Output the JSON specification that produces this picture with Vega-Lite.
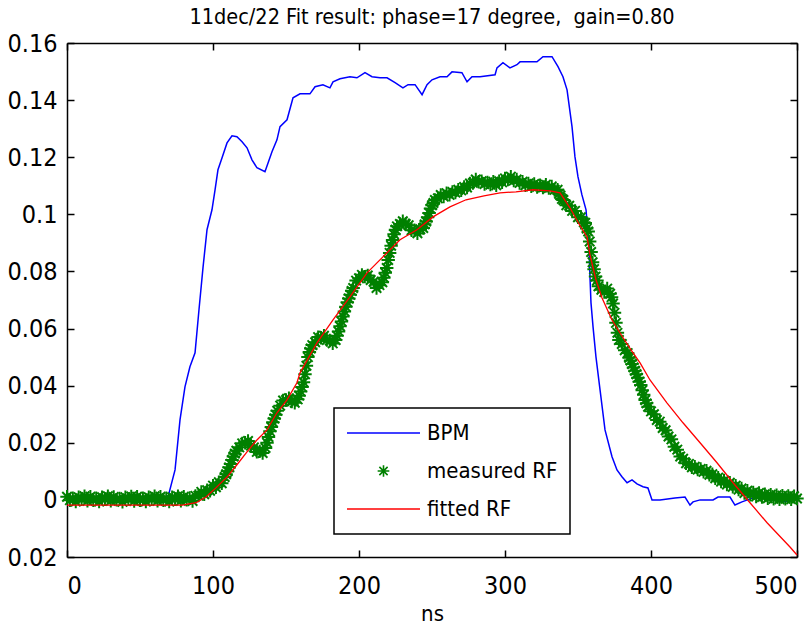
{
  "$schema": "https://vega.github.io/schema/vega-lite/v6.json",
  "width": 730,
  "height": 514,
  "autosize": {"type": "none"},
  "padding": {"left": 67, "top": 43, "right": 8, "bottom": 70},
  "background": "white",
  "title": {"text": "11dec/22 Fit result: phase=17 degree,\u00a0 gain=0.80", "font": "'Liberation Sans Narrow', 'DejaVu Sans Condensed', 'Liberation Sans', sans-serif", "fontSize": 21.5, "fontWeight": "normal", "color": "#000", "offset": 3, "anchor": "middle"},
  "config": {
    "view": {"stroke": null},
    "axis": {"domainColor": "#000", "domainWidth": 1.5, "tickColor": "#000", "tickWidth": 1.5, "tickSize": -7, "grid": false, "labelFont": "'Liberation Sans Narrow', 'DejaVu Sans Condensed', 'Liberation Sans', sans-serif", "labelFontSize": 25, "labelColor": "#000", "titleFont": "'Liberation Sans Narrow', 'DejaVu Sans Condensed', 'Liberation Sans', sans-serif", "titleFontSize": 22, "titleFontWeight": "normal", "titleColor": "#000"}
  },
  "datasets": {
    "bpm": [
      {"t":0,"v":0.0003},{"t":10,"v":0.0002},{"t":20,"v":0.0004},{"t":30,"v":0.0002},{"t":40,"v":0.0003},{"t":50,"v":0.0002},{"t":60,"v":0.0004},{"t":66,"v":0.0003},
      {"t":69.2,"v":0.001},{"t":74,"v":0.0105},{"t":77.4,"v":0.028},{"t":80.8,"v":0.0396},{"t":84.2,"v":0.0466},{"t":87.7,"v":0.0515},{"t":90.4,"v":0.0666},{"t":93.2,"v":0.0816},{"t":95.9,"v":0.0946},{"t":99.3,"v":0.1016},{"t":101.4,"v":0.1086},{"t":103.4,"v":0.1156},{"t":106.2,"v":0.1198},{"t":109.6,"v":0.125},{"t":113,"v":0.1275},{"t":116.4,"v":0.1272},{"t":119.9,"v":0.1254},{"t":123.3,"v":0.1233},{"t":126.7,"v":0.1191},{"t":130.1,"v":0.1163},{"t":135.6,"v":0.1149},{"t":137.7,"v":0.118},{"t":140.4,"v":0.1219},{"t":143.8,"v":0.1261},{"t":145.9,"v":0.1307},{"t":150.7,"v":0.1331},{"t":154.8,"v":0.1408},{"t":159.6,"v":0.1422},{"t":166.4,"v":0.1422},{"t":169.9,"v":0.1447},{"t":175.3,"v":0.1454},{"t":180.1,"v":0.1443},{"t":182.2,"v":0.1464},{"t":187,"v":0.1475},{"t":193.8,"v":0.1482},{"t":198.6,"v":0.1478},{"t":204.1,"v":0.1496},{"t":208.9,"v":0.1482},{"t":214.4,"v":0.1478},{"t":219.2,"v":0.1478},{"t":224.7,"v":0.1461},{"t":230.1,"v":0.1443},{"t":233.6,"v":0.1454},{"t":238.4,"v":0.1454},{"t":243.2,"v":0.1419},{"t":246.6,"v":0.1454},{"t":250,"v":0.1471},{"t":255.5,"v":0.1482},{"t":260.3,"v":0.1482},{"t":263.7,"v":0.1499},{"t":270.5,"v":0.1496},{"t":274,"v":0.1464},{"t":277.4,"v":0.1482},{"t":282.9,"v":0.1482},{"t":293.2,"v":0.1489},{"t":294.5,"v":0.1513},{"t":298.6,"v":0.1531},{"t":303.4,"v":0.1513},{"t":308.2,"v":0.1524},{"t":310.3,"v":0.1534},{"t":321.9,"v":0.1534},{"t":326,"v":0.1552},{"t":332.2,"v":0.1552},{"t":336.3,"v":0.1517},{"t":339.7,"v":0.1482},{"t":342.5,"v":0.1436},{"t":345.9,"v":0.1307},{"t":347.9,"v":0.1202},{"t":350,"v":0.1131},{"t":352.7,"v":0.1068},{"t":355.5,"v":0.1016},{"t":357.5,"v":0.0886},{"t":358.2,"v":0.0781},{"t":358.9,"v":0.069},{"t":360.3,"v":0.0606},{"t":362.3,"v":0.0501},{"t":365.1,"v":0.0385},{"t":368.5,"v":0.0245},{"t":373.3,"v":0.0151},{"t":376.7,"v":0.0105},{"t":380.1,"v":0.0081},{"t":383.6,"v":0.006},{"t":387,"v":0.007},{"t":390.4,"v":0.0056},{"t":394.5,"v":0.0046},{"t":397.9,"v":0.0042},{"t":400.7,"v":0.0},{"t":406.2,"v":0.0},{"t":416.4,"v":0.0007},{"t":423.3,"v":0.001},{"t":426.7,"v":-0.0018},{"t":428.8,"v":-0.0007},{"t":433.6,"v":0},{"t":442.5,"v":0},{"t":445.9,"v":0.001},{"t":454.1,"v":0.001},{"t":457.5,"v":-0.0018},{"t":462.3,"v":-0.0007},{"t":469.9,"v":0.0007},{"t":474.7,"v":0.001},{"t":489.7,"v":-0.0007},{"t":500,"v":0}
    ],
    "meas": [
      {"t":0,"v":0.0011},{"t":2,"v":-0.0001},{"t":4,"v":0.0006},{"t":6,"v":-0.0006},{"t":8,"v":0.0009},{"t":10,"v":0.0002},{"t":12,"v":0.0013},{"t":14,"v":-0.0003},{"t":16,"v":0.0011},{"t":18,"v":-0.0001},{"t":20,"v":0.0006},{"t":22,"v":-0.0006},{"t":24,"v":0.0009},{"t":26,"v":0.0002},{"t":28,"v":0.0013},{"t":30,"v":-0.0003},{"t":32,"v":0.001},{"t":34,"v":0},{"t":36,"v":0.0005},{"t":38,"v":-0.0007},{"t":40,"v":0.0009},{"t":42,"v":0.0003},{"t":44,"v":0.0012},{"t":46,"v":-0.0004},{"t":48,"v":0.0011},{"t":50,"v":-0.0001},{"t":52,"v":0.0006},{"t":54,"v":-0.0006},{"t":56,"v":0.0009},{"t":58,"v":0.0002},{"t":60,"v":0.0013},{"t":62,"v":-0.0003},{"t":64,"v":0.0011},{"t":66,"v":-0.0001},{"t":68,"v":0.0006},{"t":70,"v":-0.0006},{"t":72,"v":0.0009},{"t":74,"v":0.0002},{"t":76,"v":0.0013},{"t":78,"v":-0.0003},{"t":80,"v":0.0011},{"t":82,"v":0},{"t":84,"v":0.0007},{"t":86,"v":-0.0004},{"t":88,"v":0.0014},{"t":90,"v":0.0015},{"t":92,"v":0.0028},{"t":94,"v":0.002},{"t":96,"v":0.0034},{"t":98,"v":0.0032},{"t":100,"v":0.005},{"t":102,"v":0.0044},{"t":104,"v":0.0062},{"t":106,"v":0.0058},{"t":108,"v":0.008},{"t":109,"v":0.009},{"t":110,"v":0.01},{"t":111,"v":0.0114},{"t":112,"v":0.0126},{"t":113,"v":0.014},{"t":114,"v":0.0152},{"t":115,"v":0.0162},{"t":116,"v":0.0172},{"t":118,"v":0.0184},{"t":120,"v":0.0198},{"t":122,"v":0.02},{"t":124,"v":0.0206},{"t":126,"v":0.019},{"t":128,"v":0.0184},{"t":130,"v":0.0168},{"t":132,"v":0.017},{"t":134,"v":0.0164},{"t":136,"v":0.0182},{"t":137,"v":0.02},{"t":138,"v":0.022},{"t":139,"v":0.024},{"t":140,"v":0.0255},{"t":141,"v":0.0272},{"t":142,"v":0.0285},{"t":143,"v":0.0298},{"t":144,"v":0.0312},{"t":146,"v":0.033},{"t":148,"v":0.0348},{"t":150,"v":0.035},{"t":152,"v":0.0356},{"t":154,"v":0.0344},{"t":156,"v":0.034},{"t":158,"v":0.0352},{"t":159,"v":0.0365},{"t":160,"v":0.038},{"t":161,"v":0.0395},{"t":162,"v":0.0412},{"t":163,"v":0.044},{"t":164,"v":0.047},{"t":165,"v":0.05},{"t":166,"v":0.0518},{"t":167,"v":0.053},{"t":168,"v":0.0542},{"t":170,"v":0.0552},{"t":172,"v":0.057},{"t":174,"v":0.0568},{"t":176,"v":0.0575},{"t":178,"v":0.056},{"t":180,"v":0.0558},{"t":182,"v":0.0548},{"t":184,"v":0.056},{"t":185,"v":0.0575},{"t":186,"v":0.059},{"t":187,"v":0.0608},{"t":188,"v":0.0625},{"t":189,"v":0.0642},{"t":190,"v":0.066},{"t":191,"v":0.0676},{"t":192,"v":0.0692},{"t":193,"v":0.0705},{"t":194,"v":0.0718},{"t":195,"v":0.0732},{"t":196,"v":0.0742},{"t":198,"v":0.0768},{"t":200,"v":0.0776},{"t":202,"v":0.0788},{"t":204,"v":0.0782},{"t":206,"v":0.0786},{"t":208,"v":0.077},{"t":210,"v":0.0764},{"t":212,"v":0.0742},{"t":214,"v":0.0752},{"t":216,"v":0.0762},{"t":217,"v":0.0778},{"t":218,"v":0.0795},{"t":219,"v":0.0812},{"t":220,"v":0.084},{"t":221,"v":0.0865},{"t":222,"v":0.089},{"t":223,"v":0.091},{"t":224,"v":0.093},{"t":225,"v":0.0946},{"t":226,"v":0.0958},{"t":228,"v":0.0966},{"t":230,"v":0.0976},{"t":232,"v":0.0966},{"t":234,"v":0.0962},{"t":236,"v":0.0944},{"t":238,"v":0.0944},{"t":240,"v":0.0934},{"t":242,"v":0.0948},{"t":244,"v":0.0952},{"t":245,"v":0.0965},{"t":246,"v":0.0975},{"t":247,"v":0.099},{"t":248,"v":0.1005},{"t":249,"v":0.102},{"t":250,"v":0.1032},{"t":251,"v":0.104},{"t":252,"v":0.105},{"t":254,"v":0.1056},{"t":256,"v":0.1068},{"t":258,"v":0.1062},{"t":260,"v":0.1074},{"t":262,"v":0.1068},{"t":264,"v":0.1078},{"t":266,"v":0.1076},{"t":268,"v":0.1086},{"t":270,"v":0.1084},{"t":272,"v":0.1096},{"t":274,"v":0.1094},{"t":276,"v":0.1108},{"t":278,"v":0.111},{"t":280,"v":0.1122},{"t":282,"v":0.1114},{"t":284,"v":0.1116},{"t":286,"v":0.1106},{"t":288,"v":0.1112},{"t":290,"v":0.1104},{"t":292,"v":0.1114},{"t":294,"v":0.1102},{"t":296,"v":0.1116},{"t":298,"v":0.1112},{"t":300,"v":0.1126},{"t":302,"v":0.1122},{"t":304,"v":0.1132},{"t":306,"v":0.1118},{"t":308,"v":0.1122},{"t":310,"v":0.111},{"t":312,"v":0.1114},{"t":314,"v":0.1102},{"t":316,"v":0.1108},{"t":318,"v":0.1098},{"t":320,"v":0.1106},{"t":322,"v":0.1096},{"t":324,"v":0.1102},{"t":326,"v":0.1094},{"t":328,"v":0.1104},{"t":330,"v":0.1092},{"t":332,"v":0.1098},{"t":334,"v":0.1086},{"t":336,"v":0.1086},{"t":337,"v":0.1072},{"t":338,"v":0.1066},{"t":339,"v":0.1054},{"t":340,"v":0.105},{"t":342,"v":0.1032},{"t":344,"v":0.103},{"t":346,"v":0.1012},{"t":348,"v":0.1012},{"t":350,"v":0.099},{"t":352,"v":0.099},{"t":354,"v":0.0972},{"t":355,"v":0.097},{"t":356,"v":0.095},{"t":357,"v":0.094},{"t":358,"v":0.0905},{"t":359,"v":0.0868},{"t":360,"v":0.0832},{"t":361,"v":0.0808},{"t":362,"v":0.0782},{"t":363,"v":0.0768},{"t":364,"v":0.0748},{"t":366,"v":0.0736},{"t":368,"v":0.0728},{"t":370,"v":0.074},{"t":372,"v":0.0722},{"t":373,"v":0.071},{"t":374,"v":0.0688},{"t":375,"v":0.0655},{"t":376,"v":0.062},{"t":377,"v":0.0585},{"t":378,"v":0.056},{"t":380,"v":0.0546},{"t":382,"v":0.0524},{"t":384,"v":0.0514},{"t":385,"v":0.0498},{"t":386,"v":0.0488},{"t":387,"v":0.0476},{"t":388,"v":0.0464},{"t":389,"v":0.0452},{"t":390,"v":0.044},{"t":391,"v":0.0428},{"t":392,"v":0.0414},{"t":393,"v":0.0402},{"t":394,"v":0.0384},{"t":395,"v":0.0368},{"t":396,"v":0.035},{"t":397,"v":0.0338},{"t":398,"v":0.0326},{"t":400,"v":0.031},{"t":402,"v":0.03},{"t":404,"v":0.028},{"t":406,"v":0.0274},{"t":408,"v":0.0252},{"t":410,"v":0.0244},{"t":412,"v":0.0222},{"t":414,"v":0.0212},{"t":416,"v":0.0186},{"t":418,"v":0.0176},{"t":420,"v":0.0152},{"t":422,"v":0.0144},{"t":424,"v":0.0128},{"t":426,"v":0.0126},{"t":428,"v":0.0114},{"t":430,"v":0.0116},{"t":432,"v":0.0106},{"t":434,"v":0.0108},{"t":436,"v":0.0098},{"t":438,"v":0.0102},{"t":440,"v":0.0088},{"t":442,"v":0.009},{"t":444,"v":0.0076},{"t":446,"v":0.0078},{"t":448,"v":0.0064},{"t":450,"v":0.0068},{"t":452,"v":0.0054},{"t":454,"v":0.006},{"t":456,"v":0.0046},{"t":458,"v":0.005},{"t":460,"v":0.0036},{"t":462,"v":0.004},{"t":464,"v":0.0024},{"t":466,"v":0.0032},{"t":468,"v":0.0018},{"t":470,"v":0.0026},{"t":472,"v":0.0012},{"t":474,"v":0.0024},{"t":476,"v":0.001},{"t":478,"v":0.002},{"t":480,"v":0.0006},{"t":482,"v":0.0018},{"t":484,"v":0.0004},{"t":486,"v":0.0016},{"t":488,"v":0.0002},{"t":490,"v":0.0015},{"t":492,"v":0.0004},{"t":494,"v":0.0014},{"t":496,"v":0.0002},{"t":498,"v":0.0013},{"t":500,"v":0.0005}
    ],
    "fit": [
      {"t":0,"v":-0.0018},{"t":79,"v":-0.0018},{"t":88.4,"v":-0.001},{"t":95.2,"v":0.001},{"t":102,"v":0.0042},{"t":109.6,"v":0.008},{"t":116.4,"v":0.0123},{"t":123.3,"v":0.0168},{"t":130.1,"v":0.021},{"t":137,"v":0.0245},{"t":143.8,"v":0.0305},{"t":150.7,"v":0.035},{"t":157.5,"v":0.041},{"t":159.6,"v":0.0445},{"t":171.2,"v":0.055},{"t":182.2,"v":0.063},{"t":193.8,"v":0.0711},{"t":205.5,"v":0.0795},{"t":216.4,"v":0.0851},{"t":228.1,"v":0.0911},{"t":239.7,"v":0.0946},{"t":250.7,"v":0.0991},{"t":262.3,"v":0.1026},{"t":273.3,"v":0.1051},{"t":285.6,"v":0.1065},{"t":296.6,"v":0.1075},{"t":307.5,"v":0.1079},{"t":319.2,"v":0.1086},{"t":330.8,"v":0.1082},{"t":337.7,"v":0.1075},{"t":344.5,"v":0.1023},{"t":351.4,"v":0.096},{"t":356.2,"v":0.0921},{"t":358.2,"v":0.0858},{"t":362.3,"v":0.0771},{"t":366.4,"v":0.0708},{"t":373.3,"v":0.063},{"t":380.1,"v":0.0574},{"t":386.3,"v":0.0525},{"t":392.5,"v":0.048},{"t":399.3,"v":0.042},{"t":410.9,"v":0.034},{"t":421.9,"v":0.027},{"t":433.6,"v":0.02},{"t":445.2,"v":0.013},{"t":456.2,"v":0.006},{"t":467.8,"v":-0.001},{"t":479.5,"v":-0.008},{"t":495.2,"v":-0.0165},{"t":500,"v":-0.0193}
    ]
  },
  "layer": [
    {
      "data": {"name": "bpm"},
      "mark": {"type": "line", "strokeWidth": 1.5},
      "encoding": {
        "x": {"field": "t", "type": "quantitative", "scale": {"domain": [0, 500], "nice": false, "zero": false}, "axis": {"orient": "bottom", "values": [0, 100, 200, 300, 400, 500], "title": "ns", "labelPadding": 23, "titlePadding": 5}},
        "y": {"field": "v", "type": "quantitative", "scale": {"domain": [-0.02, 0.16], "nice": false, "zero": false}, "axis": {"orient": "left", "values": [-0.02, 0, 0.02, 0.04, 0.06, 0.08, 0.1, 0.12, 0.14, 0.16], "labelExpr": "datum.value == 0 ? '0' : format(abs(datum.value), '~g')", "title": null, "labelPadding": 17}},
        "color": {"datum": "BPM", "type": "nominal", "scale": {"domain": ["BPM", "measured RF", "fitted RF"], "range": ["#0000ff", "#008000", "#ff0000"]},
          "legend": {"orient": "none", "legendX": 267, "legendY": 365, "title": null, "padding": 12, "clipHeight": 26, "rowPadding": 12, "labelOffset": 6, "labelFont": "'Liberation Sans Narrow', 'DejaVu Sans Condensed', 'Liberation Sans', sans-serif", "labelFontSize": 22, "labelColor": "#000", "symbolType": "stroke", "symbolSize": 5329, "symbolStrokeWidth": 1.5,
            "encode": {
              "legend": {"update": {"stroke": {"value": "#000"}, "strokeWidth": {"value": 1.5}, "fill": {"value": "#fff"}}},
              "symbols": {"update": {"shape": {"signal": "datum.value === 'measured RF' ? 'M0,-0.16L0,0.16M-0.16,0L0.16,0M-0.113,-0.113L0.113,0.113M-0.113,0.113L0.113,-0.113' : 'stroke'"}, "stroke": {"scale": "color", "field": "value"}, "fill": {"value": "transparent"}, "strokeWidth": {"value": 1.6}}}
            }
          }
        }
      }
    },
    {
      "data": {"name": "meas"},
      "mark": {"type": "point", "shape": "M0,-1L0,1M-1,0L1,0M-0.707,-0.707L0.707,0.707M-0.707,0.707L0.707,-0.707", "filled": false, "size": 180, "strokeWidth": 2, "opacity": 1},
      "encoding": {
        "x": {"field": "t", "type": "quantitative", "axis": null},
        "y": {"field": "v", "type": "quantitative", "axis": null},
        "color": {"datum": "measured RF", "type": "nominal"}
      }
    },
    {
      "data": {"name": "fit"},
      "mark": {"type": "line", "strokeWidth": 1.3},
      "encoding": {
        "x": {"field": "t", "type": "quantitative", "axis": {"orient": "top", "labels": false, "title": null, "values": [0, 100, 200, 300, 400, 500]}},
        "y": {"field": "v", "type": "quantitative", "axis": {"orient": "right", "labels": false, "title": null, "values": [-0.02, 0, 0.02, 0.04, 0.06, 0.08, 0.1, 0.12, 0.14, 0.16]}},
        "color": {"datum": "fitted RF", "type": "nominal"}
      }
    }
  ],
  "resolve": {"axis": {"x": "independent", "y": "independent"}}
}
